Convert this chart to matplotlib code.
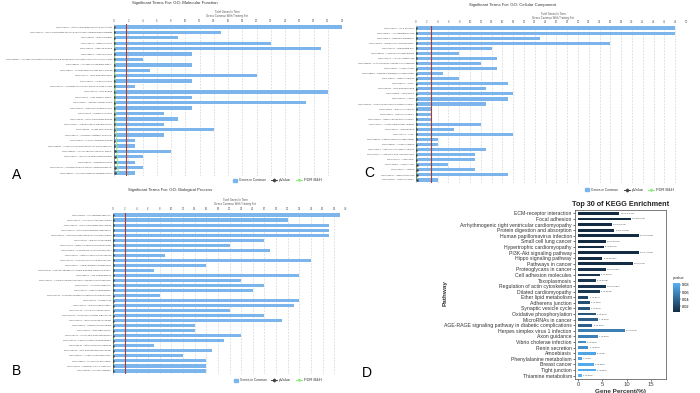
import matplotlib
matplotlib.use("Agg")
import matplotlib.pyplot as plt
from matplotlib.patches import Rectangle
from matplotlib.lines import Line2D
from matplotlib.colors import LinearSegmentedColormap, Normalize
from matplotlib.colorbar import ColorbarBase

plt.rcParams['font.family'] = ['Liberation Sans', 'DejaVu Sans']

W, H = 700, 393

# ---------------- GO: Molecular Function (A)
mf_terms = [
    "GO:0005201 ~ extracellular matrix structural constituent",
    "GO:0030020 ~ extracellular matrix structural constituent conferring tensile strength",
    "GO:0043236 ~ laminin binding",
    "GO:0005178 ~ integrin binding",
    "GO:0045296 ~ cadherin binding",
    "GO:0008201 ~ heparin binding",
    "GO:0086083 ~ cell adhesive protein binding involved in bundle of His cell-Purkinje myocyte communication",
    "GO:0098631 ~ cell adhesion mediator activity",
    "GO:0048407 ~ platelet-derived growth factor binding",
    "GO:0051015 ~ actin filament binding",
    "GO:0005518 ~ collagen binding",
    "GO:0016702 ~ oxidoreductase activity acting on single donors",
    "GO:0003779 ~ actin binding",
    "GO:0001618 ~ virus receptor activity",
    "GO:0004857 ~ enzyme inhibitor activity",
    "GO:0140272 ~ exogenous protein binding",
    "GO:0001968 ~ fibronectin binding",
    "GO:0050840 ~ extracellular matrix binding",
    "GO:0017080 ~ sodium channel regulator activity",
    "GO:0019838 ~ growth factor binding",
    "GO:0008307 ~ structural constituent of muscle",
    "GO:0019960 ~ C-X3-C chemokine binding",
    "GO:0098639 ~ collagen binding involved in cell-matrix adhesion",
    "GO:0098632 ~ cell-cell adhesion mediator activity",
    "GO:0005520 ~ insulin-like growth factor binding",
    "GO:0038132 ~ neuregulin binding",
    "GO:0097493 ~ structural molecule activity conferring elasticity",
    "GO:0098634 ~ cell-matrix adhesion mediator activity",
]
mf_counts = [32, 15, 9, 22, 29, 11, 4, 11, 5, 20, 11, 3, 30, 11, 27, 11,
             7, 9, 7, 14, 7, 3, 3, 8, 4, 3, 4, 3]
mf_fdr = [0.05, 0.05, 0.1, 0.1, 0.1, 0.1, 0.15, 0.15, 0.15, 0.15, 0.15, 0.2, 0.2, 0.2,
          0.2, 0.2, 0.25, 0.25, 0.25, 0.3, 0.3, 0.35, 0.4, 0.4, 0.45, 0.5, 0.55, 0.6]
mf_pval = [0.0, 0.0, 0.0, 0.0, 0.0, 0.0, 0.0, 0.0, 0.0, 0.0, 0.0, 0.0, 0.0, 0.0,
           0.02, 0.02, 0.02, 0.03, 0.03, 0.04, 0.05, 0.06, 0.07, 0.08, 0.09, 0.1, 0.12, 0.14]

# ---------------- GO: Cellular Component (C)
cc_terms = [
    "GO:0005925 ~ focal adhesion",
    "GO:0030055 ~ cell-substrate junction",
    "GO:0005604 ~ basement membrane",
    "GO:0005788 ~ endoplasmic reticulum lumen",
    "GO:0014704 ~ intercalated disc",
    "GO:0098644 ~ complex of collagen trimers",
    "GO:0044291 ~ cell-cell contact zone",
    "GO:0098636 ~ protein complex involved in cell adhesion",
    "GO:0005581 ~ collagen trimer",
    "GO:0098651 ~ basement membrane collagen trimer",
    "GO:0008305 ~ integrin complex",
    "GO:0030018 ~ Z disc",
    "GO:0032432 ~ actin filament bundle",
    "GO:0042383 ~ sarcolemma",
    "GO:0031674 ~ I band",
    "GO:0030532 ~ small nuclear ribonucleoprotein complex",
    "GO:0043259 ~ laminin-10 complex",
    "GO:0005610 ~ laminin-5 complex",
    "GO:0034665 ~ integrin alpha1-beta1 complex",
    "GO:0097525 ~ spliceosomal snRNP complex",
    "GO:0030027 ~ lamellipodium",
    "GO:0001726 ~ ruffle",
    "GO:0098642 ~ network-forming collagen trimer",
    "GO:0098645 ~ collagen network",
    "GO:0120114 ~ Sm-like protein family complex",
    "GO:0097517 ~ contractile actin filament bundle",
    "GO:0001725 ~ stress fiber",
    "GO:0043083 ~ synaptic cleft",
    "GO:0005901 ~ caveola",
    "GO:0005912 ~ adherens junction",
    "GO:0043256 ~ laminin complex",
]
cc_counts = [48, 48, 23, 36, 14, 8, 15, 12, 15, 5, 8, 17, 13, 18, 17, 13,
             3, 3, 3, 12, 7, 18, 4, 4, 13, 11, 11, 6, 11, 17, 4]
cc_fdr = [0.05] * 8 + [0.08] * 8 + [0.1] * 8 + [0.12] * 7
cc_pval = [0.0] * 20 + [0.05, 0.05, 0.06, 0.06, 0.07, 0.08, 0.08, 0.1, 0.1, 0.12, 0.12]

# ---------------- GO: Biological Process (B)
bp_terms = [
    "GO:0031589 ~ cell-substrate adhesion",
    "GO:0045216 ~ cell-cell junction organization",
    "GO:0030198 ~ extracellular matrix organization",
    "GO:0043062 ~ extracellular structure organization",
    "GO:0045229 ~ external encapsulating structure organization",
    "GO:0021782 ~ glial cell development",
    "GO:0007229 ~ integrin-mediated signaling pathway",
    "GO:1901888 ~ regulation of cell junction assembly",
    "GO:0000395 ~ mRNA 5'-splice site recognition",
    "GO:0014706 ~ striated muscle tissue development",
    "GO:0031102 ~ neuron projection regeneration",
    "GO:2001046 ~ positive regulation of integrin-mediated signaling pathway",
    "GO:0048592 ~ eye morphogenesis",
    "GO:0010927 ~ cellular component assembly involved in morphogenesis",
    "GO:0007160 ~ cell-matrix adhesion",
    "GO:0072006 ~ nephron development",
    "GO:2001044 ~ regulation of integrin-mediated signaling pathway",
    "GO:0031099 ~ regeneration",
    "GO:0010001 ~ glial cell differentiation",
    "GO:0007043 ~ cell-cell junction assembly",
    "GO:0031032 ~ actomyosin structure organization",
    "GO:0002064 ~ epithelial cell development",
    "GO:0030903 ~ notochord development",
    "GO:0031103 ~ axon regeneration",
    "GO:0072073 ~ kidney epithelium development",
    "GO:0072009 ~ nephron epithelium development",
    "GO:0090136 ~ epithelial cell-cell adhesion",
    "GO:0030048 ~ actin filament-based movement",
    "GO:0030199 ~ collagen fibril organization",
    "GO:0048678 ~ response to axon injury",
    "GO:0034109 ~ homotypic cell-cell adhesion",
    "GO:0030239 ~ myofibril assembly",
]
bp_counts = [39, 30, 37, 37, 37, 26, 20, 27, 9, 34, 16, 7, 32, 22, 26, 24,
             8, 32, 31, 20, 26, 29, 14, 14, 22, 19, 7, 17, 12, 16, 16, 16]
bp_fdr = [0.04] * 32
bp_pval = [0.0] * 32

# ---------------- KEGG (D)
kegg_path = [
    "ECM-receptor interaction", "Focal adhesion",
    "Arrhythmogenic right ventricular cardiomyopathy", "Protein digestion and absorption",
    "Human papillomavirus infection", "Small cell lung cancer",
    "Hypertrophic cardiomyopathy", "PI3K-Akt signaling pathway",
    "Hippo signaling pathway", "Pathways in cancer", "Proteoglycans in cancer",
    "Cell adhesion molecules", "Toxoplasmosis", "Regulation of actin cytoskeleton",
    "Dilated cardiomyopathy", "Ether lipid metabolism", "Adherens junction",
    "Synaptic vesicle cycle", "Oxidative phosphorylation", "MicroRNAs in cancer",
    "AGE-RAGE signaling pathway in diabetic complications",
    "Herpes simplex virus 1 infection", "Axon guidance", "Vibrio cholerae infection",
    "Renin secretion", "Amoebiasis", "Phenylalanine metabolism", "Breast cancer",
    "Tight junction", "Thiamine metabolism",
]
kegg_pct = [8.5, 10.8, 6.9, 7.4, 12.5, 5.7, 5.3, 12.5, 5.0, 11.2, 5.7, 4.5, 3.6, 5.7,
            4.5, 2.1, 2.4, 2.4, 3.6, 4.1, 2.9, 9.6, 4.1, 1.6, 2.1, 3.6, 0.8, 3.2, 3.6, 0.8]
kegg_count = [15, 19, 12, 13, 22, 10, 9, 22, 9, 20, 10, 8, 6, 10, 8, 4, 4, 4, 6, 7,
              5, 17, 7, 3, 4, 6, 2, 6, 6, 2]
kegg_p = [1.2e-13, 8.6e-11, 6.3e-11, 1.3e-09, 2.3e-08, 5.8e-07, 1.5e-06, 1.4e-06,
          0.00026, 0.001, 0.0045, 0.0057, 0.0066, 0.0064, 0.0091, 0.017, 0.023,
          0.028, 0.028, 0.034, 0.034, 0.054, 0.056, 0.064, 0.065, 0.08, 0.08,
          0.084, 0.084, 0.088]
kegg_p_txt = ["1.2e-13", "8.6e-11", "6.3e-11", "1.3e-09", "2.3e-08", "5.8e-07",
              "1.5e-06", "1.4e-06", "0.00026", "0.001", "0.0045", "0.0057", "0.0066",
              "0.0064", "0.0091", "0.017", "0.023", "0.028", "0.028", "0.034", "0.034",
              "0.054", "0.056", "0.064", "0.065", "0.08", "0.08", "0.084", "0.084", "0.088"]

BAR = '#7cb5ec'
GREEN = '#90ed7d'
DARK = '#434348'


def fx(x):
    return x / W


def fy(y):
    return 1 - y / H


fig = plt.figure(figsize=(7, 3.93), dpi=100)


def go_panel(x0, x1, ytop, ybot, terms, counts, xmax, red, fdr, pval,
             title, title_xy, head_x, head_y, leg_x, leg_y, letter, letter_xy):
    ax = fig.add_axes([fx(x0), fy(ybot), fx(x1 - x0), (ybot - ytop) / H])
    n = len(terms)
    rows = list(range(n))
    ax.barh(rows, counts, height=0.62, color=BAR, edgecolor='none', zorder=2)
    ax.plot(fdr, rows, color=GREEN, lw=0.7, zorder=3)
    ax.plot(pval, rows, color=DARK, lw=0.4, marker='o', ms=0.8, zorder=3)
    ax.axvline(red, color='#b03a2e', lw=0.8, zorder=4)
    ax.set_xlim(0, xmax)
    ax.set_ylim(n - 0.5, -0.5)
    ax.set_xticks(range(0, xmax + 1, 2))
    ax.xaxis.tick_top()
    ax.tick_params(axis='x', length=0, labelsize=2.0, labelcolor='#555555', pad=1)
    ax.set_yticks(rows)
    ax.set_yticklabels(terms)
    ax.tick_params(axis='y', length=0, labelsize=1.65, labelcolor='#444444', pad=1.5)
    ax.grid(axis='x', color='#d0d0d0', lw=0.45, ls=(0, (3, 2)), zorder=0)
    for s in ['top', 'right', 'bottom']:
        ax.spines[s].set_visible(False)
    ax.spines['left'].set_color('#c0d0e0')
    ax.spines['left'].set_linewidth(0.4)
    fig.text(fx(title_xy[0]), fy(title_xy[1]), title, ha='center', va='center',
             fontsize=3.1, color='#333333')
    fig.text(fx(head_x), fy(head_y), "Total Genes In Term", ha='center', va='center',
             fontsize=2.0, color='#555555')
    fig.text(fx(head_x), fy(head_y + 4), "Genes Common With Training Set", ha='center',
             va='center', fontsize=2.0, color='#555555')
    # legend
    fig.add_artist(Rectangle((fx(leg_x[0]), fy(leg_y + 1.5)), 4 / W, 3 / H,
                             color=BAR, transform=fig.transFigure))
    fig.text(fx(leg_x[0] + 6), fy(leg_y), "Genes in Common", va='center',
             fontsize=2.3, color='#333333')
    fig.add_artist(Line2D([fx(leg_x[1] - 3), fx(leg_x[1] + 3)], [fy(leg_y)] * 2,
                          color=DARK, lw=0.7, transform=fig.transFigure))
    fig.add_artist(Line2D([fx(leg_x[1])], [fy(leg_y)], color=DARK, marker='D', ms=1.4,
                          transform=fig.transFigure))
    fig.text(fx(leg_x[1] + 5), fy(leg_y), "pValue", va='center', fontsize=2.9, color='#333333')
    fig.add_artist(Line2D([fx(leg_x[2] - 3), fx(leg_x[2] + 3)], [fy(leg_y)] * 2,
                          color=GREEN, lw=0.7, transform=fig.transFigure))
    fig.add_artist(Line2D([fx(leg_x[2])], [fy(leg_y)], color=GREEN, marker='v', ms=1.4,
                          transform=fig.transFigure))
    fig.text(fx(leg_x[2] + 5), fy(leg_y), "FDR B&H", va='center', fontsize=2.9, color='#333333')
    fig.text(fx(letter_xy[0]), fy(letter_xy[1]), letter, ha='left', va='center',
             fontsize=10, color='black')
    return ax


go_panel(114, 342, 24.3, 175.7, mf_terms, mf_counts, 32, 1.75, mf_fdr, mf_pval,
         "Significant Terms For: GO: Molecular Function", (175, 3), 227, 12,
         (233, 274, 299), 180, "A", (12, 175))

go_panel(416, 686, 25.5, 182.5, cc_terms, cc_counts, 50, 2.7, cc_fdr, cc_pval,
         "Significant Terms For: GO: Cellular Component", (513, 5), 553, 14,
         (585, 627, 651), 190, "C", (364, 173))

go_panel(113, 346, 212.5, 373.5, bp_terms, bp_counts, 40, 2.0, bp_fdr, bp_pval,
         "Significant Terms For: GO: Biological Process", (170, 190), 235, 200,
         (234, 274, 299), 380, "B", (12, 371))

# ---------------- KEGG panel
cmap = LinearSegmentedColormap.from_list('gg', ['#132B43', '#56B1F7'])
norm = Normalize(vmin=0.0, vmax=0.088)

axd = fig.add_axes([fx(575), fy(379), fx(91), 169 / H])
rows = list(range(len(kegg_path)))
axd.barh(rows, kegg_pct, height=0.5, color=[cmap(norm(p)) for p in kegg_p], zorder=2)
for r, v, c, t in zip(rows, kegg_pct, kegg_count, kegg_p_txt):
    axd.text(v + 0.3, r, f"{c} ({t})", va='center', ha='left', fontsize=1.7, color='#333333')
axd.set_xlim(-0.62, 18.07)
axd.set_ylim(29.6, -0.6)
axd.set_yticks(rows)
axd.set_yticklabels(kegg_path)
axd.set_xticks([0, 5, 10, 15])
axd.tick_params(axis='y', labelsize=3.7, length=1.5, width=0.4, pad=0.8, labelcolor='#333333')
axd.tick_params(axis='x', labelsize=4.2, length=1.5, width=0.4, pad=0.8, labelcolor='#444444')
for s in axd.spines.values():
    s.set_color('#666666')
    s.set_linewidth(0.6)
axd.set_xlabel("Gene Percent(%)", fontsize=4.6, fontweight='bold', color='#333333', labelpad=1)
fig.text(fx(445), fy(293), "Pathway", rotation=90, ha='center', va='center',
         fontsize=4.6, fontweight='bold', color='#333333')
fig.text(fx(621), fy(204), "Top 30 of KEGG Enrichment", ha='center', va='center',
         fontsize=5.2, fontweight='bold', color='#222222')

cax = fig.add_axes([fx(673), fy(312), 7 / W, 29 / H])
cb = ColorbarBase(cax, cmap=cmap, norm=Normalize(vmin=0.003, vmax=0.0857))
cb.set_ticks([0.02, 0.04, 0.06, 0.08])
cb.ax.tick_params(labelsize=2.8, length=0.8, width=0.3, pad=0.8)
cb.outline.set_visible(False)
fig.text(fx(673), fy(278), "pvalue", ha='left', va='center', fontsize=2.9, color='#333333')
fig.text(fx(362), fy(373), "D", ha='left', va='center', fontsize=10, color='black')

fig.savefig("out.png", dpi=100)
